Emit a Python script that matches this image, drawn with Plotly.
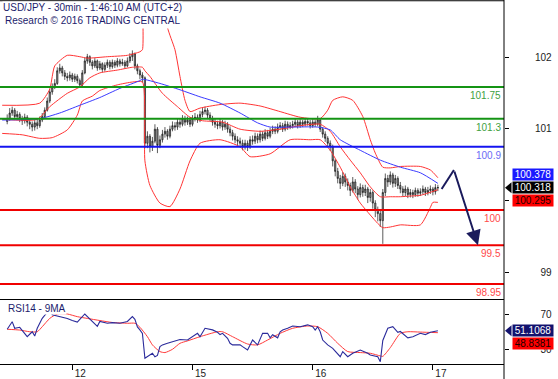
import plotly.graph_objects as go

# ---------------- data ----------------
bar_idx = list(range(-26, 147))  # 30-min bars; 0 = start of the 12th

closes = [101.30, 101.38, 101.42, 101.33, 101.36, 101.30, 101.27, 101.32, 101.25, 101.22,
          101.18, 101.24, 101.20, 101.28, 101.33, 101.42, 101.55, 101.68, 101.75, 101.80,
          101.98, 102.02, 101.95, 101.90, 101.88, 101.92, 101.86, 101.90, 101.84, 101.78,
          101.95, 102.12, 102.18, 102.10, 102.05, 102.12, 102.02, 102.08, 102.00, 102.06,
          102.10, 102.04, 102.10, 102.06, 102.12, 102.08, 102.10, 102.05, 102.12, 102.18,
          102.22, 102.05, 101.98, 101.92, 101.88, 100.95, 101.05, 100.90, 100.98, 101.15,
          100.92, 101.00, 101.08, 101.12, 101.05, 101.15, 101.20, 101.18, 101.25, 101.22,
          101.30, 101.25, 101.28, 101.22, 101.30, 101.32, 101.28, 101.36, 101.40, 101.42,
          101.35, 101.30, 101.25, 101.22, 101.20, 101.25, 101.18, 101.22, 101.15, 101.10,
          101.05, 101.00, 100.98, 100.95, 100.90, 100.95, 100.90, 101.00, 100.98, 101.05,
          101.00, 101.08, 101.02, 101.10, 101.05, 101.12, 101.15, 101.12, 101.18, 101.20,
          101.15, 101.22, 101.18, 101.20, 101.22, 101.25, 101.20, 101.25, 101.22, 101.26,
          101.24, 101.20, 101.25, 101.22, 101.28, 101.15, 101.08, 101.02, 100.95, 100.90,
          100.70, 100.55, 100.45, 100.38, 100.48, 100.40, 100.35, 100.28, 100.40, 100.30,
          100.22, 100.32, 100.25, 100.30, 100.18, 100.25, 100.10, 100.00, 99.95, 99.85,
          100.25, 100.45, 100.40, 100.50, 100.38, 100.45, 100.35, 100.30, 100.25, 100.30,
          100.22, 100.25, 100.22, 100.28, 100.24, 100.26, 100.30, 100.25, 100.28, 100.30, 100.26, 100.32, 100.318]

highs = [101.36, 101.45, 101.47, 101.45, 101.41, 101.39, 101.34, 101.37, 101.35, 101.29,
         101.26, 101.28, 101.29, 101.33, 101.38, 101.46, 101.60, 101.72, 101.80, 101.86,
         102.03, 102.08, 102.05, 101.99, 101.95, 101.97, 101.95, 101.94, 101.93, 101.87,
         101.99, 102.17, 102.22, 102.20, 102.13, 102.16, 102.14, 102.12, 102.10, 102.10,
         102.14, 102.13, 102.14, 102.13, 102.16, 102.15, 102.15, 102.13, 102.17, 102.23,
         102.27, 102.24, 102.08, 102.01, 101.96, 101.90, 101.12, 101.08, 101.04, 101.22,
         101.18, 101.06, 101.14, 101.18, 101.15, 101.20, 101.26, 101.25, 101.30, 101.30,
         101.35, 101.34, 101.33, 101.32, 101.35, 101.38, 101.36, 101.41, 101.45, 101.47,
         101.45, 101.39, 101.34, 101.30, 101.27, 101.30, 101.28, 101.27, 101.25, 101.19,
         101.14, 101.09, 101.05, 101.03, 101.00, 101.00, 100.99, 101.05, 101.06, 101.10,
         101.09, 101.13, 101.12, 101.15, 101.14, 101.17, 101.20, 101.19, 101.23, 101.25,
         101.24, 101.27, 101.26, 101.25, 101.27, 101.30, 101.28, 101.29, 101.28, 101.30,
         101.30, 101.28, 101.29, 101.28, 101.34, 101.30, 101.18, 101.12, 101.05, 100.99,
         100.93, 100.73, 100.60, 100.50, 100.54, 100.52, 100.45, 100.39, 100.47, 100.44,
         100.34, 100.38, 100.36, 100.36, 100.33, 100.30, 100.28, 100.14, 100.05, 100.00,
         100.30, 100.52, 100.50, 100.55, 100.53, 100.50, 100.48, 100.40, 100.34, 100.35,
         100.33, 100.30, 100.29, 100.32, 100.31, 100.31, 100.35, 100.33, 100.33, 100.35, 100.33, 100.37, 100.36]

lows = [101.22, 101.27, 101.34, 101.29, 101.28, 101.25, 101.21, 101.23, 101.19, 101.15,
        101.12, 101.13, 101.15, 101.17, 101.25, 101.30, 101.40, 101.52, 101.64, 101.72,
        101.78, 101.94, 101.90, 101.85, 101.83, 101.84, 101.82, 101.82, 101.80, 101.74,
        101.76, 101.93, 102.08, 102.05, 102.00, 102.02, 101.98, 101.99, 101.96, 101.97,
        102.02, 102.00, 102.01, 102.02, 102.03, 102.04, 102.05, 102.01, 102.03, 102.09,
        102.12, 102.00, 101.93, 101.86, 101.82, 100.88, 100.88, 100.82, 100.84, 100.95,
        100.81, 100.88, 100.96, 101.03, 101.00, 101.02, 101.12, 101.13, 101.14, 101.17,
        101.19, 101.20, 101.21, 101.18, 101.19, 101.26, 101.24, 101.25, 101.32, 101.36,
        101.30, 101.26, 101.20, 101.17, 101.15, 101.16, 101.13, 101.14, 101.10, 101.05,
        100.99, 100.95, 100.92, 100.89, 100.85, 100.86, 100.84, 100.87, 100.93, 100.94,
        100.95, 100.96, 100.98, 100.99, 101.01, 101.02, 101.08, 101.08, 101.09, 101.14,
        101.11, 101.12, 101.14, 101.15, 101.16, 101.18, 101.16, 101.17, 101.18, 101.19,
        101.20, 101.16, 101.17, 101.18, 101.19, 101.11, 101.03, 100.97, 100.90, 100.84,
        100.62, 100.48, 100.38, 100.30, 100.34, 100.33, 100.28, 100.20, 100.25, 100.24,
        100.15, 100.18, 100.19, 100.20, 100.10, 100.12, 100.02, 99.90, 99.84, 99.76,
        99.52, 100.20, 100.33, 100.36, 100.32, 100.33, 100.30, 100.24, 100.19, 100.20,
        100.17, 100.18, 100.17, 100.19, 100.19, 100.20, 100.22, 100.20, 100.21, 100.23, 100.21, 100.22, 100.27]

first_open = 101.26
opens = [first_open] + closes[:-1]

# Bollinger bands
ub_bar = [-28, -13, -9, -8, -7, -2, 3, 6, 14, 22, 27, 28, 29, 34, 37, 38, 41, 43, 45, 47,
          51, 59, 67, 75, 83, 91, 99, 102, 104, 108, 112, 116, 119, 121, 124, 127, 131, 139, 143, 146]
ub_val = [101.49, 101.52, 101.72, 101.90, 102.05, 102.20, 102.18, 102.16, 102.18, 102.20,
          102.25, 102.28, 103.10, 103.20, 103.10, 102.60, 102.28, 101.90, 101.56, 101.40,
          101.45, 101.50, 101.52, 101.48, 101.40, 101.32, 101.30, 101.42, 101.56, 101.61,
          101.56, 101.33, 101.00, 100.81, 100.61, 100.60, 100.62, 100.62, 100.57, 100.46]

mb_bar = [-28, -14, -9, -2, 3, 7, 11, 18, 24, 28, 29, 31, 36, 42, 47, 52, 60, 67, 75, 83,
          91, 99, 103, 107, 111, 115, 119, 123, 127, 131, 135, 139, 146]
mb_val = [101.29, 101.29, 101.47, 101.66, 101.75, 101.88, 101.95, 101.99, 102.03, 102.03,
          101.98, 101.90, 101.66, 101.47, 101.32, 101.27, 101.25, 101.15, 101.12, 101.15,
          101.20, 101.22, 101.12, 100.90, 100.71, 100.53, 100.33, 100.19, 100.19, 100.19,
          100.20, 100.21, 100.29]

lb_bar = [-28, -20, -13, -8, -2, 2, 4, 8, 11, 18, 24, 28, 29, 31, 35, 39, 43, 47, 51, 59,
          67, 71, 79, 87, 95, 99, 103, 107, 111, 115, 119, 122, 124, 127, 131, 139, 143, 144, 146]
lb_val = [101.09, 101.07, 101.02, 101.03, 101.14, 101.35, 101.55, 101.62, 101.70, 101.78,
          101.82, 101.82, 100.70, 100.35, 100.10, 100.05, 100.30, 100.70, 100.95, 101.00,
          100.90, 100.76, 100.80, 101.00, 101.00, 101.00, 100.85, 100.61, 100.33, 100.10,
          99.93, 99.81, 99.75, 99.76, 99.79, 99.79, 100.04, 100.11, 100.11]

# longer moving average (blue)
ma_bar = [-28, -13, -5, 3, 11, 19, 27, 28, 35, 43, 51, 59, 67, 74, 79, 87, 98, 103, 107,
          115, 123, 131, 139, 146]
ma_val = [101.28, 101.30, 101.38, 101.49, 101.60, 101.73, 101.84, 101.86, 101.80, 101.71,
          101.61, 101.52, 101.38, 101.24, 101.18, 101.18, 101.18, 101.14, 101.00, 100.85,
          100.71, 100.61, 100.53, 100.38]

# RSI14 and its 9MA
rsi_bar = [-26, -24, -23, -21, -18, -16, -15, -14, -13, -12, -10, -9, -8, -5, -2, 0, 2, 5, 7, 10,
           11, 14, 16, 19, 22, 24, 25, 26, 27, 28, 29, 30, 32, 33, 34, 35, 36, 38, 40, 43,
           46, 50, 51, 53, 56, 58, 59, 60, 62, 63, 64, 67, 68, 70, 71, 72, 74, 76, 78, 79,
           80, 82, 83, 84, 86, 88, 91, 94, 96, 97, 98, 99, 100, 102, 104, 106, 107, 108, 110, 112,
           115, 118, 119, 122, 123, 124, 125, 126, 128, 130, 131, 132, 134, 136, 139, 141, 143, 146]
rsi_val = [52.7, 61.3, 53.8, 54.9, 44.3, 49.9, 45.0, 53.8, 59.5, 65.1, 72.0, 78.0, 69.0, 67.0, 65.0, 62.6, 60.8, 70.0, 64.0, 56.0,
           61.5, 59.6, 60.2, 59.6, 61.5, 67.0, 64.0, 55.3, 52.0, 48.1, 19.8, 21.6, 25.5, 21.6, 23.0, 33.0, 35.0, 36.8, 38.7, 41.1,
           40.5, 48.1, 44.3, 53.8, 52.0, 49.3, 46.7, 48.1, 42.4, 36.8, 35.0, 35.0, 33.0, 29.2, 35.0, 40.5, 35.0, 48.1, 48.1, 43.0,
           46.5, 43.0, 49.9, 51.8, 53.8, 56.4, 55.6, 57.7, 55.6, 51.8, 55.6, 49.9, 40.5, 35.0, 31.1, 25.5, 21.6, 27.4, 21.6, 25.5,
           29.2, 25.5, 23.5, 21.6, 16.0, 40.0, 48.1, 53.8, 55.6, 49.3, 50.2, 48.1, 43.0, 44.3, 48.1, 46.7, 49.3, 51.1068]

rsima_bar = [-26, -21, -17, -14, -12, -9, -6, -2, 2, 6, 11, 16, 22, 25, 27, 30, 32, 35, 37, 40,
             43, 46, 51, 58, 60, 64, 70, 74, 78, 83, 88, 94, 98, 102, 106, 110, 115, 119, 123, 124,
             127, 131, 134, 139, 146]
rsima_val = [52.7, 51.8, 49.9, 49.9, 55.6, 65.0, 70.0, 70.0, 67.0, 65.0, 62.6, 60.4, 59.5, 59.5, 55.0, 44.3, 35.0, 27.4, 26.3, 30.0,
             36.8, 39.5, 44.3, 49.9, 49.9, 44.3, 36.0, 35.0, 40.5, 48.1, 53.8, 56.4, 55.6, 48.1, 36.8, 27.4, 26.3, 25.5, 22.5, 22.0,
             31.9, 48.1, 49.9, 49.5, 48.8381]

# support / resistance levels
level_vals = [101.75, 101.3, 100.9, 100.0, 99.5, 98.95]
level_text = ["101.75", "101.3", "100.9", "100", "99.5", "98.95"]
level_line_col = ["#149414", "#149414", "#1414f0", "#f00000", "#f00000", "#f00000"]
level_text_col = ["#3f9f3f", "#3f9f3f", "#6b6bf5", "#ff4a4a", "#ff4a4a", "#ff4a4a"]

# projected path
proj_bar = [147.5, 152.4, 162.0]
proj_val = [100.30, 100.57, 99.50]

# last-value tags
price_tags = ["100.378", "100.318", "100.295"]
last_price = 100.318
rsi_tags = ["51.1068", "48.8381"]
last_rsi = 51.1068

day_ticks = [0, 48, 96, 144]
day_labels = ["12", "15", "16", "17"]
price_ticks = [99, 100, 101, 102]
price_tick_text = ["\u00a0\u00a099", "", "101", "102"]   # "100" sits hidden under the tags
rsi_ticks = [30, 70]

title1 = "USD/JPY - 30min - 1:46:10 AM (UTC+2)"
title2 = "Research \u00a9 2016 TRADING CENTRAL"

# ---------------- layout geometry ----------------
W, H = 558, 379
X_RIGHT = 504 / W
MAIN_DOM = [1 - 299.5 / H, 1 - 0.75 / H]
RSI_DOM = [1 - 363.5 / H, 1 - 299.5 / H]
FONT = "Liberation Sans, Arial, sans-serif"
NAVY = "#1c1c6c"

fig = go.Figure()

band_line = dict(color="#ff3434", width=1, shape="spline", smoothing=0.6)
fig.add_trace(go.Scatter(x=ub_bar, y=ub_val, mode="lines", line=band_line, yaxis="y", hoverinfo="skip"))
fig.add_trace(go.Scatter(x=lb_bar, y=lb_val, mode="lines", line=band_line, yaxis="y", hoverinfo="skip"))
fig.add_trace(go.Scatter(x=mb_bar, y=mb_val, mode="lines", line=band_line, yaxis="y", hoverinfo="skip"))
fig.add_trace(go.Scatter(x=ma_bar, y=ma_val, mode="lines",
                         line=dict(color="#3a3aff", width=1, shape="spline", smoothing=0.6),
                         yaxis="y", hoverinfo="skip"))

candle_style = dict(line=dict(color="#151515", width=0.7), fillcolor="#9a9a9a")
fig.add_trace(go.Candlestick(x=bar_idx, open=opens, high=highs, low=lows, close=closes,
                             increasing=candle_style, decreasing=candle_style,
                             whiskerwidth=0, yaxis="y", hoverinfo="skip"))

# projection
fig.add_trace(go.Scatter(x=proj_bar[:2], y=proj_val[:2], mode="lines",
                         line=dict(color="#1a1a5c", width=2), yaxis="y", hoverinfo="skip"))

# RSI
fig.add_trace(go.Scatter(x=rsima_bar, y=rsima_val, mode="lines",
                         line=dict(color="#ff3a3a", width=1, shape="spline", smoothing=0.6),
                         yaxis="y2", hoverinfo="skip"))
fig.add_trace(go.Scatter(x=rsi_bar, y=rsi_val, mode="lines",
                         line=dict(color="#2b2b9b", width=1.1), yaxis="y2", hoverinfo="skip"))

# dummy trace carrying the price tick axis
fig.add_trace(go.Scatter(x=[None], y=[None], yaxis="y3", hoverinfo="skip"))

shapes = []
annotations = []

for v, t, lc, tc in zip(level_vals, level_text, level_line_col, level_text_col):
    shapes.append(dict(type="line", xref="x domain", x0=0, x1=1, yref="y", y0=v, y1=v,
                       line=dict(color=lc, width=2)))
    annotations.append(dict(text=t, xref="x domain", x=1, xanchor="right", xshift=-1,
                            yref="y", y=v, yanchor="top", yshift=-1, showarrow=False,
                            font=dict(family=FONT, size=10, color=tc)))

# frame lines
shapes.append(dict(type="line", xref="x domain", x0=0, x1=1, yref="y domain", y0=1, y1=1,
                   line=dict(color="#000", width=1)))
shapes.append(dict(type="line", xref="x domain", x0=0, x1=1, yref="y2 domain", y0=1, y1=1,
                   line=dict(color="#000", width=1)))
shapes.append(dict(type="line", xref="x domain", x0=1, x1=1, yref="paper", y0=0, y1=1,
                   line=dict(color="#000", width=1)))

# projection arrow
annotations.append(dict(x=proj_bar[2], y=proj_val[2], xref="x", yref="y",
                        ax=proj_bar[1], ay=proj_val[1], axref="x", ayref="y",
                        showarrow=True, arrowhead=2, arrowsize=1.5, arrowwidth=2,
                        arrowcolor="#1a1a5c", text=""))

# title (white boxes hide the band that runs above)
annotations.append(dict(text=title2, xref="paper", x=0.004, xanchor="left", yref="paper", y=1,
                        yanchor="top", yshift=-12, showarrow=False, bgcolor="white", borderpad=2,
                        font=dict(family=FONT, size=10, color=NAVY)))
annotations.append(dict(text=title1, xref="paper", x=0.004, xanchor="left", yref="paper", y=1,
                        yanchor="top", yshift=-1, showarrow=False, bgcolor="white", borderpad=0,
                        font=dict(family=FONT, size=10, color=NAVY)))
annotations.append(dict(text="RSI14 - 9MA", xref="paper", x=7 / W, xanchor="left",
                        yref="y2 domain", y=1, yanchor="top", yshift=-2, showarrow=False,
                        bgcolor="white", borderpad=0, font=dict(family=FONT, size=10, color=NAVY)))

# value tags
def tag(text, yref, yval, yshift, bg, fg):
    return dict(text=text, xref="paper", x=X_RIGHT, xanchor="left", xshift=7.5,
                yref=yref, y=yval, yanchor="middle", yshift=yshift, showarrow=False,
                bgcolor=bg, borderpad=0, width=40, height=11,
                font=dict(family=FONT, size=10, color=fg))

annotations.append(tag(price_tags[0], "y", last_price, 13.5, "#1a1aff", "white"))
annotations.append(tag(price_tags[1], "y", last_price, 0, "#000000", "white"))
annotations.append(tag(price_tags[2], "y", last_price, -13, "#ff0000", "#1a0000"))
annotations.append(tag(rsi_tags[0], "y2", last_rsi, 0, "#12126e", "white"))
annotations.append(tag(rsi_tags[1], "y2", last_rsi, -13, "#ff0000", "#1a0000"))

for yref, yv, col in [("y", last_price, "#000000"), ("y2", last_rsi, "#12126e")]:
    shapes.append(dict(type="path", xref="paper", xsizemode="pixel", xanchor=X_RIGHT,
                       yref=yref, ysizemode="pixel", yanchor=yv,
                       path="M 1,0 L 7.5,5.5 L 7.5,-5.5 Z", fillcolor=col, line=dict(width=0)))

nb = "\u00a0\u00a0"
tickfont = dict(family=FONT, size=10, color="#222")

fig.update_layout(
    width=W, height=H, margin=dict(l=0, r=0, t=0, b=0),
    paper_bgcolor="white", plot_bgcolor="white", showlegend=False,
    xaxis=dict(domain=[0, X_RIGHT], range=[-28.87, 172.4], anchor="y2",
               showgrid=False, zeroline=False, showline=True, linecolor="#000", linewidth=1,
               ticks="outside", ticklen=5, tickcolor="#000", tickvals=day_ticks, ticktext=day_labels,
               tickfont=tickfont, ticklabelshift=8, ticklabelstandoff=-5,
               rangeslider=dict(visible=False), fixedrange=True),
    yaxis=dict(domain=MAIN_DOM, range=[98.7294, 102.9754], anchor="x",
               showticklabels=False, showgrid=False, zeroline=False, ticks=""),
    yaxis3=dict(overlaying="y", side="right", anchor="x", range=[98.624, 102.7848],
                tickvals=price_ticks, ticktext=price_tick_text,
                ticks="outside", ticklen=4, tickcolor="#000", showgrid=False, zeroline=False,
                showline=False, tickfont=tickfont, ticklabelstandoff=24),
    yaxis2=dict(domain=RSI_DOM, range=[13.91, 86.43], anchor="x", side="right",
                tickvals=rsi_ticks, ticktext=[nb + str(t) for t in rsi_ticks],
                ticks="outside", ticklen=4, tickcolor="#000", showgrid=False, zeroline=False,
                showline=False, tickfont=tickfont, ticklabelstandoff=24),
    shapes=shapes, annotations=annotations,
)

fig.write_html("out.html")
